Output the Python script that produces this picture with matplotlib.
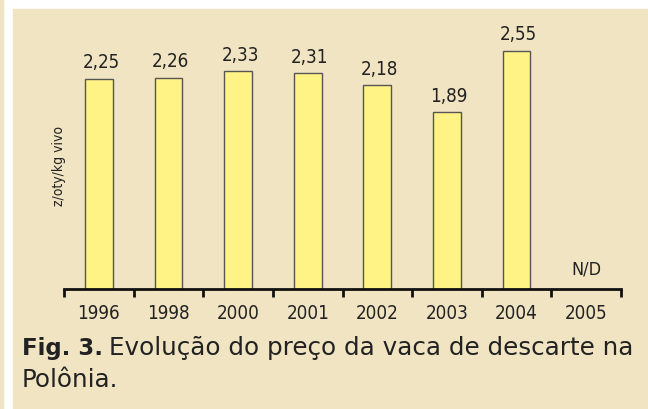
import numpy as np
import matplotlib
matplotlib.use("Agg")
import matplotlib.pyplot as plt
from matplotlib.patches import Rectangle

years = ["1996", "1998", "2000", "2001", "2002", "2003", "2004", "2005"]
prices = [2.25, 2.26, 2.33, 2.31, 2.18, 1.89, 2.55, None]
missing_label = "N/D"
ylabel = "z/oty/kg vivo"

bg = "#f1e4c2"
bar_color = "#fff386"

fig = plt.figure(figsize=(6.48, 4.10), dpi=100, facecolor="white")
# cream panels behind the chart
fig.patches.append(Rectangle((0, 0), 3 / 648, 1, transform=fig.transFigure, color=bg, zorder=-5))
fig.patches.append(Rectangle((13 / 648, 0), 1, 400 / 410, transform=fig.transFigure, color=bg, zorder=-5))

ax = fig.add_axes([64 / 648, 120 / 410, 557 / 648, 270 / 410])
ax.set_facecolor("none")

nar = dict(family="DejaVu Sans", stretch="condensed", color="#222222")
x = np.arange(len(years))
for xi, v in zip(x, prices):
    if v is None:
        ax.text(xi, 0.12, missing_label, ha="center", va="bottom", fontsize=13, **nar)
        continue
    ax.bar(xi, v, width=0.4, color=bar_color, edgecolor="#555555", linewidth=1)
    ax.text(xi + 0.03, v + 0.08, f"{v:.2f}".replace(".", ","), ha="center", va="bottom",
            fontsize=13.5, **nar)

ax.set_xlim(-0.5, len(years) - 0.5)
ax.set_ylim(0, 2.89)
for s in ["top", "right", "left"]:
    ax.spines[s].set_visible(False)
ax.spines["bottom"].set_linewidth(2)
ax.spines["bottom"].set_color("#111111")
ax.set_yticks([])

ax.set_xticks(np.arange(len(years) + 1) - 0.5)
ax.set_xticklabels([])
ax.tick_params(axis="x", which="major", direction="out", length=6, width=2, color="#111111")
ax.set_xticks(x, minor=True)
ax.set_xticklabels(years, minor=True, fontsize=13.5, **nar)
ax.tick_params(axis="x", which="minor", length=0, pad=10)

fig.text(59 / 648, 1 - 166 / 410, ylabel, rotation=90, ha="center", va="center",
         fontsize=10, **nar)

cap = dict(family="DejaVu Sans", color="#222222", va="baseline", ha="left")
fig.text(22 / 648, 1 - 355 / 410, "Fig. 3.", fontweight="bold", fontsize=16.5, **cap)
fig.text(109 / 648, 1 - 355 / 410, "Evolução do preço da vaca de descarte na", fontsize=17.7, **cap)
fig.text(22 / 648, 1 - 387 / 410, "Polônia.", fontsize=17.7, **cap)

fig.savefig("out.png", dpi=100, facecolor="white")
